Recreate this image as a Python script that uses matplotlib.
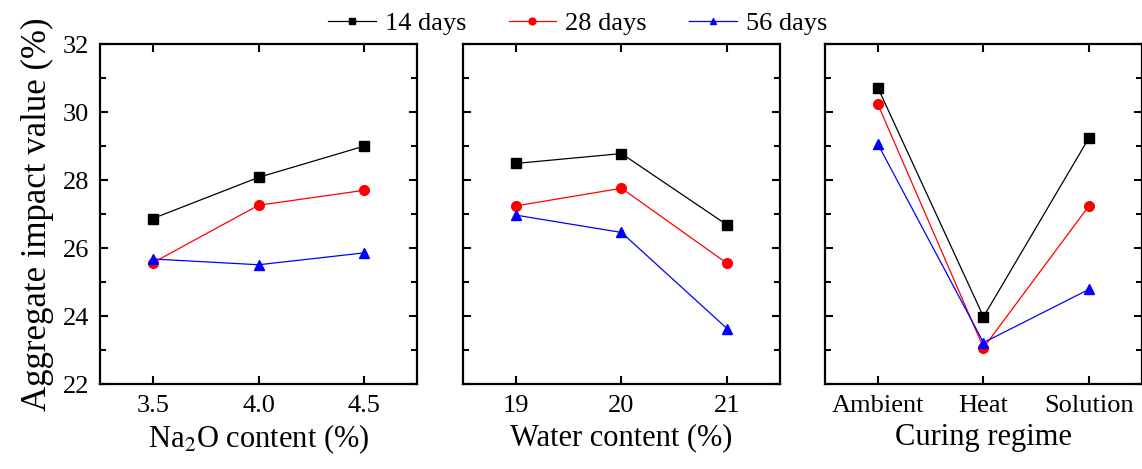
import matplotlib.pyplot as plt
import numpy as np

plt.rcParams["font.family"] = ["Liberation Serif", "DejaVu Serif"]
plt.rcParams["mathtext.fontset"] = "stix"

series_names = ["14 days", "28 days", "56 days"]
series_colors = ["#000000", "#ff0000", "#0000ff"]
series_markers = ["s", "o", "^"]

naoh_content = [3.5, 4.0, 4.5]
naoh_values = [
    [26.87, 28.08, 29.0],
    [25.57, 27.26, 27.7],
    [25.68, 25.51, 25.86],
]

water_content = [19, 20, 21]
water_values = [
    [28.49, 28.78, 26.68],
    [27.24, 27.76, 25.55],
    [26.97, 26.46, 23.63],
]

curing_regimes = ["Ambient", "Heat", "Solution"]
curing_values = [
    [30.72, 23.98, 29.25],
    [30.23, 23.07, 27.25],
    [29.06, 23.22, 24.79],
]

fig = plt.figure(figsize=(11.42, 4.69), dpi=100)
width = 0.2776
bottom = 0.181
height = 0.725
ax1 = fig.add_axes([0.0876, bottom, width, height])
ax2 = fig.add_axes([0.4054, bottom, width, height])
ax3 = fig.add_axes([0.7224, bottom, width, height])

panels = [
    (ax1, naoh_content, naoh_values, "Na$_2$O content (%)", (3.25, 4.75), 0.25),
    (ax2, water_content, water_values, "Water content (%)", (18.5, 21.5), 0.5),
    (ax3, np.arange(len(curing_regimes)), curing_values, "Curing regime", (-0.5, 2.5), 0.5),
]

for ax, xs, values, xlabel, xlim, minor in panels:
    for vals, name, color, marker in zip(values, series_names, series_colors, series_markers):
        ax.plot(xs, vals, color=color, marker=marker, markersize=7, linewidth=0.9, label=name)
    ax.set_xlim(*xlim)
    ax.set_ylim(22, 32)
    ax.set_xticks(xs)
    ax.set_xticks(np.arange(xlim[0] + minor, xlim[1], minor * 2), minor=True)
    ax.set_yticks(np.arange(22, 33, 2))
    ax.set_yticks(np.arange(23, 32, 2), minor=True)
    ax.tick_params(which="both", direction="in", top=True, right=True, labelsize=19, width=1.5)
    ax.tick_params(which="major", length=6, pad=8)
    ax.tick_params(which="minor", length=4)
    for spine in ax.spines.values():
        spine.set_linewidth(1.6)
    ax.set_xlabel(xlabel, fontsize=22, labelpad=4)

ax1.set_xticklabels(["3.5", "4.0", "4.5"])
ax3.set_xticklabels(curing_regimes)
ax2.tick_params(labelleft=False)
ax3.tick_params(labelleft=False)
ax1.set_ylabel("Aggregate impact value (%)", fontsize=25, labelpad=6)

handles, labels = ax1.get_legend_handles_labels()
fig.legend(handles, labels, loc="upper center", bbox_to_anchor=(0.506, 1.025), ncol=3,
           frameon=False, fontsize=19, markerscale=0.7, handlelength=1.8,
           columnspacing=1.6, handletextpad=0.35)

fig.savefig("out.png", dpi=100)
